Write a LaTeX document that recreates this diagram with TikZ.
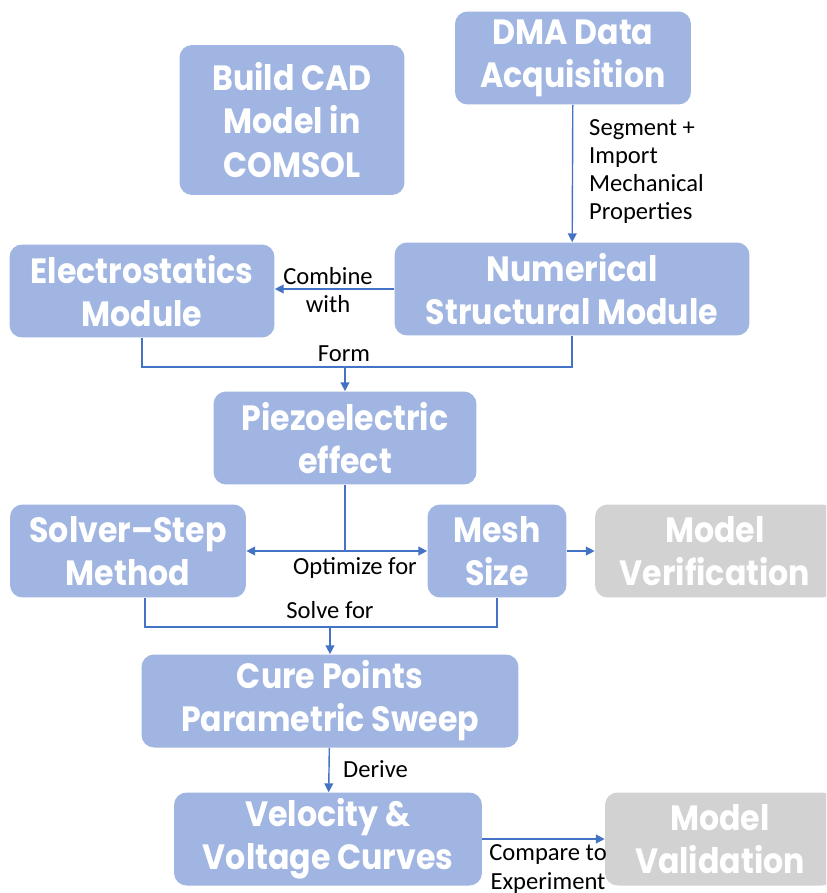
\documentclass[tikz,border=0pt]{standalone}
\usepackage{fontspec}
\setmainfont{Carlito}
\newfontfamily\stagefont[FakeStretch=0.9,Ligatures=TeX]{Poppins}
\usetikzlibrary{arrows.meta}

\definecolor{stageblue}{RGB}{160,181,225}
\definecolor{stagegrey}{RGB}{210,210,210}
\definecolor{linkblue}{RGB}{68,114,196}

\tikzset{
  stage/.style={fill=stageblue, rounded corners=0.25cm, inner sep=0pt,
    minimum height=1.86cm, align=center, text=white,
    font=\stagefont\bfseries\fontsize{20}{24.5}\selectfont},
  check/.style={stage, fill=stagegrey},
  link/.style={draw=linkblue, line width=0.8pt},
  arrow/.style={link, -{Triangle[width=5pt,length=5pt]}},
  note/.style={align=left, font=\fontsize{14}{16}\selectfont}
}

\begin{document}
\begin{tikzpicture}[x=0.02cm,y=-0.02cm]
\useasboundingbox (0,0) rectangle (826,893);
\clip (0,0) rectangle (826,893);

% boxes
\node[stage, minimum width=4.72cm] (dma) at (573,58) {DMA Data\\Acquisition};
\node[stage, minimum width=4.5cm, minimum height=3cm] (cad) at (292,120) {Build CAD\\Model in\\COMSOL};
\node[stage, minimum width=5.3cm] (elec) at (142,291) {Electrostatics\\Module};
\node[stage, minimum width=7.1cm] (num) at (572,289) {Numerical\\Structural Module};
\node[stage, minimum width=5.26cm] (piezo) at (345,438) {Piezoelectric\\effect};
\node[stage, minimum width=4.72cm] (solver) at (128,551) {Solver--Step\\Method};
\node[stage, minimum width=2.78cm] (mesh) at (497,551) {Mesh\\Size};
\node[check, minimum width=4.8cm] (verif) at (715,551) {Model\\Verification};
\node[stage, minimum width=7.54cm] (cure) at (330,701) {Cure Points\\Parametric Sweep};
\node[stage, minimum width=6.16cm] (velo) at (328,839) {Velocity \&\\Voltage Curves};
\node[check, minimum width=4.6cm] (valid) at (720,839) {Model\\Validation};

% connectors
\draw[arrow] (dma) -- (num);
\node[note, anchor=north west] at (583,113) {Segment +\\Import\\Mechanical\\Properties};

\draw[arrow] (num.west) -- (num.west -| elec.east);
\node[note, align=center] at (328,290) {Combine\\with};

\coordinate (form) at (345,367);
\draw[link] (elec.south) |- (form) -| (num.south);
\draw[arrow] (form) -- (piezo.north);
\node[note] at (344,354) {Form};

\coordinate (optim) at (345,551);
\draw[link] (piezo.south) -- (optim);
\draw[arrow] (optim) -- (solver.east);
\draw[arrow] (optim) -- (mesh.west);
\node[note] at (355,568) {Optimize for};
\draw[arrow] (mesh.east) -- (verif.west);

\coordinate (solve) at (330,627);
\draw[link] ([xshift=0.34cm]solver.south) |- (solve) -| (mesh.south);
\draw[arrow] (solve) -- (cure.north);
\node[note] at (330,610) {Solve for};

\draw[arrow] (cure) -- (velo);
\node[note, anchor=west] at (337,769) {Derive};

\draw[arrow] (velo.east) -- (valid.west);
\node[note, align=center] at (548,869) {Compare to\\Experiment};
\end{tikzpicture}
\end{document}
